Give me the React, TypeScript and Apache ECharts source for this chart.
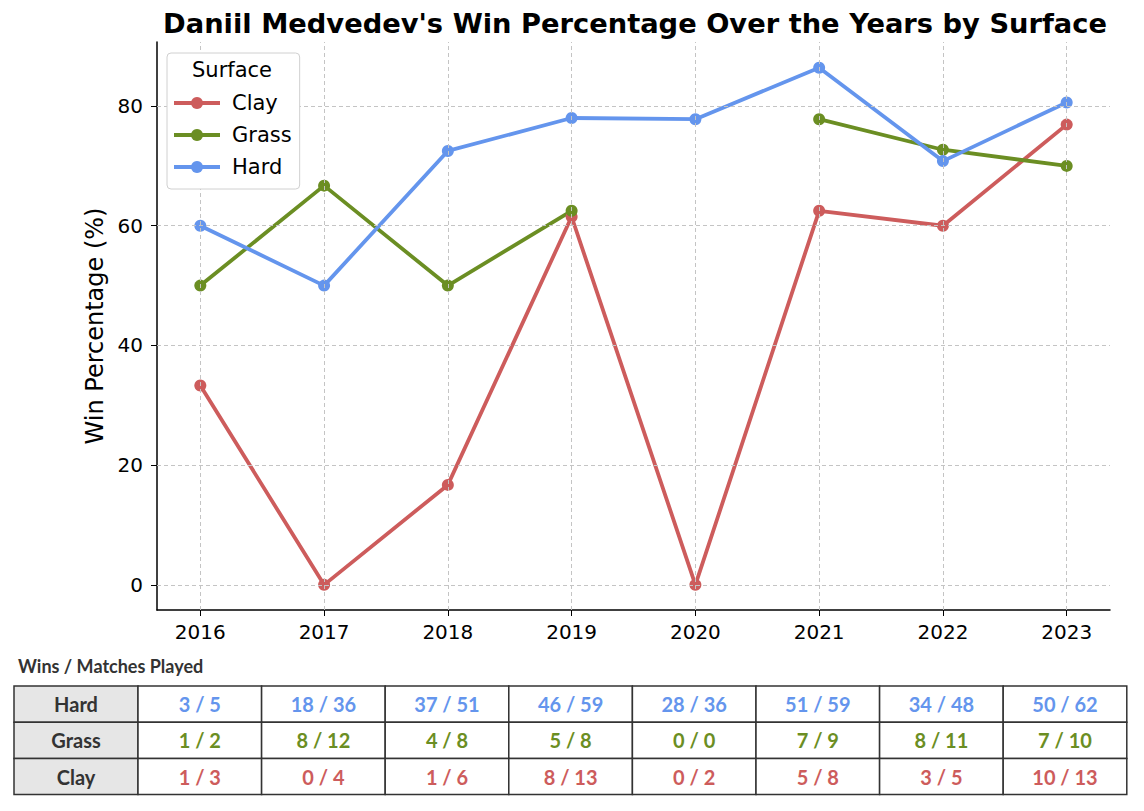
import React, { useEffect, useRef } from "react";
import * as echarts from "echarts";

const years = [2016, 2017, 2018, 2019, 2020, 2021, 2022, 2023];
const yTicks = [0, 20, 40, 60, 80];
const surfaces = ["Clay", "Grass", "Hard"];

const clayPct = [33.3, 0, 16.7, 61.5, 0, 62.5, 60.0, 76.9];
const grassPct: (number | null)[] = [50.0, 66.7, 50.0, 62.5, null, 77.8, 72.7, 70.0];
const hardPct = [60.0, 50.0, 72.5, 78.0, 77.8, 86.4, 70.8, 80.6];

const hardWins = [3, 18, 37, 46, 28, 51, 34, 50];
const hardMatches = [5, 36, 51, 59, 36, 59, 48, 62];
const grassWins = [1, 8, 4, 5, 0, 7, 8, 7];
const grassMatches = [2, 12, 8, 8, 0, 9, 11, 10];
const clayWins = [1, 0, 1, 8, 0, 5, 3, 10];
const clayMatches = [3, 4, 6, 13, 2, 8, 5, 13];

const COLORS: Record<string, string> = {
  Clay: "#cd5c5c",
  Grass: "#6b8e23",
  Hard: "#6495ed",
};

const FONT = "DejaVu Sans";
const TFONT = "Lato";

export default function App() {
  const ref = useRef<HTMLDivElement>(null);
  useEffect(() => {
    if (!ref.current) return;
    const chart = echarts.init(ref.current, null, { renderer: "svg" });

    const mk = (name: string, vals: (number | null)[]) => ({
      name,
      type: "line",
      data: years.map((y, i) => [y, vals[i] === null ? "-" : vals[i]]),
      symbol: "circle",
      symbolSize: 12,
      showSymbol: true,
      lineStyle: { width: 3.8, color: COLORS[name] },
      itemStyle: { color: COLORS[name] },
      z: 3,
    });

    // table
    const tableRows = [
      { label: "Hard", wins: hardWins, matches: hardMatches },
      { label: "Grass", wins: grassWins, matches: grassMatches },
      { label: "Clay", wins: clayWins, matches: clayMatches },
    ];
    const tLeft = 14;
    const tTop = 686;
    const headW = 124;
    const colW = 123.6;
    const rowH = 36.2;
    const graphics: any[] = [];
    graphics.push({
      type: "text",
      x: 18,
      y: 666,
      style: {
        text: "Wins / Matches Played",
        font: `bold 18px ${TFONT}`,
        fill: "#333",
        verticalAlign: "middle",
      },
    });
    tableRows.forEach((r, ri) => {
      const y = tTop + ri * rowH;
      graphics.push({
        type: "rect",
        shape: { x: tLeft, y, width: headW, height: rowH },
        style: { fill: "#e6e6e6", stroke: "#333", lineWidth: 1.5 },
      });
      graphics.push({
        type: "text",
        x: tLeft + headW / 2,
        y: y + rowH / 2,
        style: {
          text: r.label,
          font: `bold 20px ${TFONT}`,
          fill: "#333",
          align: "center",
          verticalAlign: "middle",
        },
      });
      years.forEach((_, ci) => {
        const x = tLeft + headW + ci * colW;
        graphics.push({
          type: "rect",
          shape: { x, y, width: colW, height: rowH },
          style: { fill: "#fff", stroke: "#333", lineWidth: 1.5 },
        });
        graphics.push({
          type: "text",
          x: x + colW / 2,
          y: y + rowH / 2,
          style: {
            text: `${r.wins[ci]} / ${r.matches[ci]}`,
            font: `bold 20px ${TFONT}`,
            fill: COLORS[r.label],
            align: "center",
            verticalAlign: "middle",
          },
        });
      });
    });
    graphics.push({
      type: "text",
      x: 232,
      y: 70,
      z: 100,
      style: {
        text: "Surface",
        font: `21px ${FONT}`,
        fill: "#000",
        align: "center",
        verticalAlign: "middle",
      },
    });

    const gridStyle = { color: "#c4c4c4", width: 1, type: [4, 3] as any };

    chart.setOption({
      animation: false,
      backgroundColor: "#fff",
      title: {
        text: "Daniil Medvedev's Win Percentage Over the Years by Surface",
        left: 630,
        textAlign: "center",
        top: 5,
        textStyle: { fontFamily: FONT, fontWeight: "bold", fontSize: 27.3, color: "#000" },
      },
      legend: {
        data: surfaces,
        orient: "vertical",
        left: 167,
        top: 53,
        padding: [39, 8, 11, 5],
        itemWidth: 46,
        itemHeight: 15,
        itemGap: 10,
        backgroundColor: "#fff",
        borderColor: "#d0d0d0",
        borderWidth: 1,
        borderRadius: 4,
        lineStyle: { width: 4 },
        textStyle: {
          fontFamily: FONT,
          fontSize: 21,
          color: "#000",
          lineHeight: 22,
          padding: [0, 0, 0, 7],
        },
        z: 50,
      },
      grid: { left: 157, right: 34, top: 42, bottom: 201, containLabel: false },
      xAxis: {
        type: "value",
        min: 2015.65,
        max: 2023.35,
        axisLine: { show: true, onZero: false, lineStyle: { color: "#000", width: 1.5 } },
        axisTick: { show: true, customValues: years, length: 6, lineStyle: { color: "#000" } },
        axisLabel: {
          customValues: years,
          formatter: (v: number) => String(v),
          fontFamily: FONT,
          fontSize: 20,
          color: "#000",
          margin: 12,
        },
        splitLine: { show: false },
      },
      yAxis: {
        type: "value",
        min: -4.2,
        max: 90.7,
        name: "Win Percentage (%)",
        nameLocation: "middle",
        nameGap: 47,
        nameTextStyle: { fontFamily: FONT, fontSize: 24, color: "#000" },
        axisLine: { show: true, onZero: false, lineStyle: { color: "#000", width: 1.5 } },
        axisTick: { show: true, customValues: yTicks, length: 6, lineStyle: { color: "#000" } },
        axisLabel: {
          customValues: yTicks,
          fontFamily: FONT,
          fontSize: 20,
          color: "#000",
          margin: 14,
        },
        splitLine: { show: false },
      },
      series: [
        {
          name: "grid",
          type: "line",
          data: [],
          silent: true,
          z: 1,
          markLine: {
            silent: true,
            symbol: ["none", "none"],
            label: { show: false },
            lineStyle: gridStyle,
            data: [
              ...years.map((y) => ({ xAxis: y })),
              ...yTicks.map((v) => ({ yAxis: v })),
            ],
          },
        },
        mk("Clay", clayPct),
        mk("Grass", grassPct),
        mk("Hard", hardPct),
      ],
      graphic: graphics,
    });
    return () => chart.dispose();
  }, []);
  return (
    <div
      ref={ref}
      style={{ position: "fixed", left: 0, top: 0, width: 1144, height: 811 }}
    />
  );
}
